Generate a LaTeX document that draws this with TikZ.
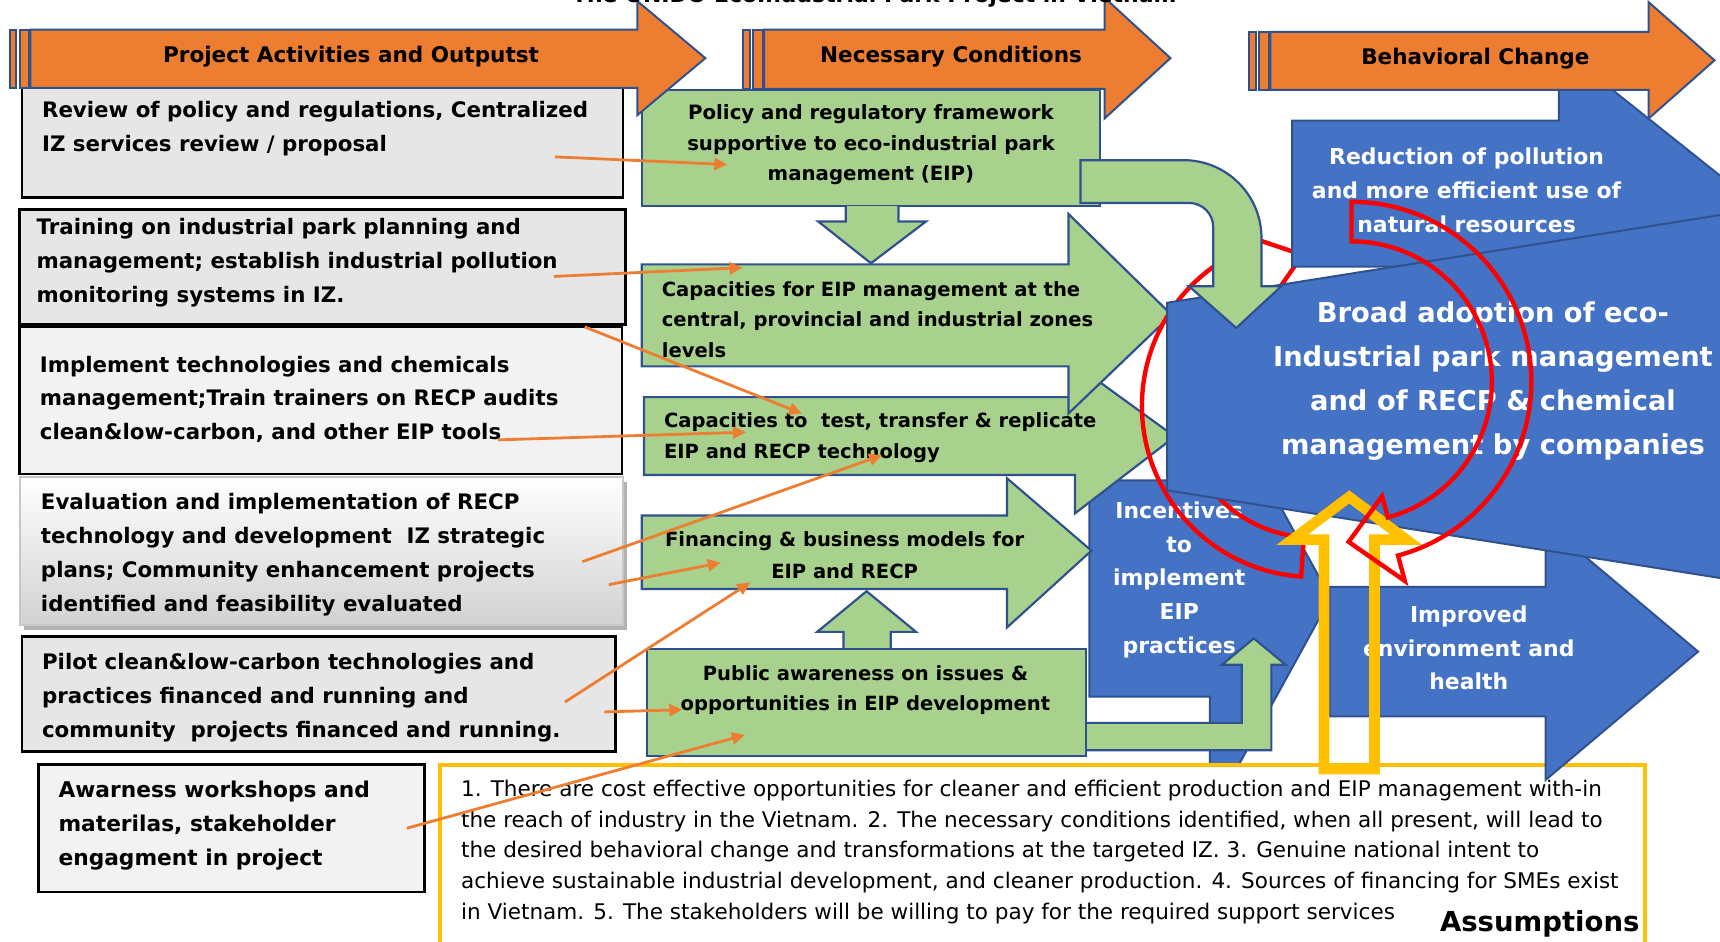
\documentclass[tikz,border=0pt]{standalone}
\usepackage{fontspec}
\setmainfont{DejaVu Sans}
\usetikzlibrary{arrows.meta}
\definecolor{orng}{HTML}{ED7D31}
\definecolor{grn}{HTML}{A9D18E}
\definecolor{blu}{HTML}{4472C4}
\definecolor{edge}{HTML}{2F528F}
\definecolor{gryA}{HTML}{E7E6E6}
\definecolor{gryB}{HTML}{F2F2F2}
\definecolor{ylw}{HTML}{FFC000}
\newcommand{\txtsz}[2]{\fontsize{#1}{#2}\selectfont}
\tikzset{
  hdr/.style={fill=orng,draw=edge,line width=1pt},
  grnshape/.style={fill=grn,draw=edge,line width=1.1pt},
  blushape/.style={fill=blu,draw=edge,line width=1pt},
  actbox/.style={draw=black,line width=1.3pt},
  redring/.style={draw=red,line width=2.2pt},
  conn/.style={draw=orng,line width=1.4pt,-{Triangle[length=6.5pt,width=6pt]}},
  hdrtxt/.style={anchor=base,inner sep=0pt,font=\bfseries\txtsz{10.8}{13}},
  acttxt/.style={anchor=base west,align=left,inner sep=0pt,font=\bfseries\txtsz{10.7}{17}},
  condtxt/.style={inner sep=0pt,font=\bfseries\txtsz{9.8}{15.4}},
  chgtxt/.style={anchor=base,align=center,inner sep=0pt,text=white,font=\bfseries\txtsz{11}{17}}
}
\begin{document}
\begin{tikzpicture}[x=0.55pt,y=-0.55pt]
\useasboundingbox (0,0) rectangle (1568,858);

\filldraw[actbox,fill=gryA] (20,80) rectangle (568,180);
\filldraw[actbox,fill=gryA] (18,191) rectangle (570,296);
\filldraw[actbox,fill=gryB] (18,298) rectangle (567,432);
\fill[black!30] (22,439) rectangle (572,574);
\shade[top color=white,bottom color=black!18] (18,435) rectangle (568,570);
\draw[black!22,line width=1pt] (18,435) rectangle (568,570);
\filldraw[actbox,fill=gryA] (20,580) rectangle (561,685);
\filldraw[actbox,fill=gryB] (35,697) rectangle (387,813);
\node[acttxt] (review) at (38,138) {Review of policy and regulations, Centralized\\IZ services review / proposal};
\node[acttxt] (training) at (33,276) {Training on industrial park planning and\\management; establish industrial pollution\\monitoring systems in IZ.};
\node[acttxt] (implement) at (36,401) {Implement technologies and chemicals\\management;Train trainers on RECP audits\\clean\&low-carbon, and other EIP tools};
\node[acttxt] (evaluate) at (37,557) {Evaluation and implementation of RECP\\technology and development\ \ IZ strategic\\plans; Community enhancement projects\\identified and feasibility evaluated};
\node[acttxt] (pilot) at (38,672) {Pilot clean\&low-carbon technologies and\\practices financed and running and\\community\ \ projects financed and running.};
\node[acttxt,font=\bfseries\txtsz{10.9}{17}] (workshop) at (53,789) {Awarness workshops and\\materilas, stakeholder\\engagment in project};

\filldraw[grnshape] (585,82) rectangle (1003,188);
\filldraw[grnshape] (771,188) -- (771,202) -- (746,202) -- (794,240) -- (844,202) -- (819,202) -- (819,188);
\node[condtxt,anchor=base,align=center,font=\bfseries\txtsz{9.9}{15.4}] (policy) at (794,165) {Policy and regulatory framework\\supportive to eco-industrial park\\management (EIP)};

\filldraw[blushape] (993,438) -- (1103,438) -- (1103,345) -- (1213,545) -- (1103,745) -- (1103,635) -- (993,635) -- cycle;
\node[chgtxt] (incentive) at (1075,596) {Incentives\\to\\implement\\EIP\\practices};
\filldraw[draw=ylw,fill=white,line width=2pt] (401,697) rectangle (1500,880);
\node[anchor=base west,align=left,inner sep=0pt,font=\txtsz{10.8}{15.4}] (assume) at (420,838) {1. There are cost effective opportunities for cleaner and efficient production and EIP management with-in\\the reach of industry in the Vietnam. 2. The necessary conditions identified, when all present, will lead to\\the desired behavioral change and transformations at the targeted IZ. 3. Genuine national intent to\\achieve sustainable industrial development, and cleaner production. 4. Sources of financing for SMEs exist\\in Vietnam. 5. The stakeholders will be willing to pay for the required support services};
\node[anchor=base east,inner sep=0pt,font=\bfseries\txtsz{13.8}{16}] (asmlabel) at (1495,849) {Assumptions};

\filldraw[grnshape] (587,362) -- (980,362) -- (980,332) -- (1071,398) -- (980,468) -- (980,433) -- (587,433) -- cycle;
\filldraw[grnshape] (585,241) -- (974,241) -- (974,195) -- (1068,287) -- (974,377) -- (974,334) -- (585,334) -- cycle;
\filldraw[grnshape] (585,470) -- (918,470) -- (918,436) -- (995,502) -- (918,572) -- (918,537) -- (585,537) -- cycle;
\filldraw[grnshape] (769,592) -- (769,576) -- (745,576) -- (790,539) -- (835,576) -- (812,576) -- (812,592);
\filldraw[grnshape] (990,659) -- (1132,659) -- (1132,606) -- (1114,606) -- (1143,582) -- (1172,606) -- (1159,606) -- (1159,684) -- (990,684);
\filldraw[grnshape] (590,592) rectangle (990,689);
\node[condtxt,anchor=base west,align=left] (capmgmt) at (603,326) {Capacities for EIP management at the\\central, provincial and industrial zones\\levels};
\node[condtxt,anchor=base west,align=left] (captest) at (605,418) {Capacities to\ \ test, transfer \& replicate\\EIP and RECP technology};
\node[condtxt,anchor=base,align=center,font=\bfseries\txtsz{9.8}{16}] (finance) at (770,527) {Financing \& business models for\\EIP and RECP};
\node[condtxt,anchor=base,align=center] (aware) at (789,648) {Public awareness on issues \&\\opportunities in EIP development};

\draw[redring] ([shift={(1197,370)}]94:156) arc[start angle=94,end angle=245,radius=156] -- ([shift={(1197,370)}]245:176) -- ([shift={(1197,370)}]266:138) -- ([shift={(1197,370)}]245:100) -- ([shift={(1197,370)}]245:120) arc[start angle=245,end angle=94,radius=120] -- cycle;

\filldraw[blushape] (1178,110) -- (1421,110) -- (1421,43) -- (1593,180) -- (1421,317) -- (1421,243) -- (1178,243) -- cycle;
\node[chgtxt] (reduce) at (1337,212) {Reduction of pollution\\and more efficient use of\\natural resources};
\filldraw[blushape] (1212,535) -- (1409,535) -- (1409,477) -- (1548,594) -- (1409,711) -- (1409,653) -- (1212,653) -- cycle;
\node[chgtxt] (improve) at (1339,629) {Improved\\environment and\\health};
\filldraw[blushape] (1064,276) -- (1600,191) -- (1600,532) -- (1064,447) -- cycle;
\node[chgtxt,font=\bfseries\txtsz{13.7}{22}] (adopt) at (1361,414) {Broad adoption of eco-\\Industrial park management\\and of RECP \& chemical\\management by companies};

\filldraw[grnshape] (985,146) -- (1079,146) arc[start angle=270,end angle=360,radius=71] -- (1150,261) -- (1168,261) -- (1127,299) -- (1084,261) -- (1106,261) -- (1106,207) arc[start angle=0,end angle=-90,radius=22] -- (985,185) -- cycle;

\draw[draw=ylw,line width=5.3pt] (1207,701) -- (1207,492) -- (1178,492) -- (1230,453) -- (1282,492) -- (1253,492) -- (1253,701) -- cycle;

\draw[redring] ([shift={(1232,348)}]-90:164) arc[start angle=-90,end angle=75,radius=164] -- ([shift={(1232,348)}]75:188) -- ([shift={(1232,348)}]91:146) -- ([shift={(1232,348)}]75:108) -- ([shift={(1232,348)}]75:128) arc[start angle=75,end angle=-90,radius=128] -- cycle;

\foreach \xa/\xh/\xt/\yt/\yb/\ht/\hb in {8.8/581/643/27/80/1/105, 677.6/1007/1067/27/81/-2/108, 1139/1503/1563/29/82/2/108}
{
  \filldraw[hdr] (\xa,\yt) rectangle (\xa+6,\yb);
  \filldraw[hdr] (\xa+9,\yt) rectangle (\xa+18,\yb);
  \filldraw[hdr] (\xa+19,\yt) -- (\xh,\yt) -- (\xh,\ht) -- (\xt,{(\ht+\hb)/2}) -- (\xh,\hb) -- (\xh,\yb) -- (\xa+19,\yb) -- cycle;
}
\node[hdrtxt] (hdrA) at (320,57) {Project Activities and Outputst};
\node[hdrtxt] (hdrB) at (867,57) {Necessary Conditions};
\node[hdrtxt] (hdrC) at (1345,59) {Behavioral Change};

\coordinate (out1) at (506,143); \coordinate (in1) at (663,150);
\coordinate (out2) at (505,252); \coordinate (in2) at (677,244);
\coordinate (out3) at (533,298); \coordinate (in3) at (731,377);
\coordinate (out4) at (454,401); \coordinate (in4) at (680,394);
\coordinate (out5) at (531,512); \coordinate (in5) at (804,415);
\coordinate (out6) at (555,533); \coordinate (in6) at (657,513);
\coordinate (out7) at (515,640); \coordinate (in7) at (684,531);
\coordinate (out8) at (551,649); \coordinate (in8) at (622,647);
\coordinate (out9) at (371,755); \coordinate (in9) at (679,670);
\foreach \i in {1,...,9}
  \draw[conn] (out\i) -- (in\i);

\node[anchor=base,inner sep=0pt,font=\bfseries\txtsz{11}{13}] (title) at (797,2.5) {The UNIDO EcoIndustrial Park Project in Vietnam};
\end{tikzpicture}
\end{document}
